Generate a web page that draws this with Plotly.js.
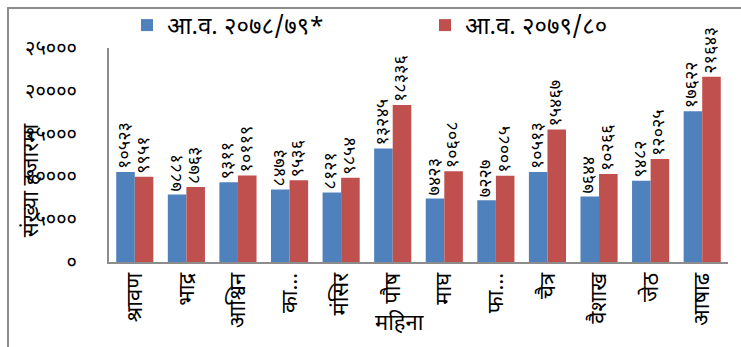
<!DOCTYPE html>
<html><head><meta charset="utf-8">
<script src="https://cdn.plot.ly/plotly-3.0.1.min.js"></script>
<style>
html,body{margin:0;padding:0;background:#fff;}
#frame{position:absolute;left:7px;top:7px;width:745px;height:350px;border:2px solid #8c8c8c;box-sizing:border-box;}
#chart{position:absolute;left:0;top:0;width:741px;height:347px;}
</style></head>
<body><div id="frame"></div><div id="chart"></div>
<script>
const months = ['श्रावण','भाद्र','आश्विन','का…','मंसिर','पौष','माघ','फा…','चैत्र','वैशाख','जेठ','आषाढ'];
const fy7879 = [10523, 7881, 9311, 8473, 8121, 13245, 7423, 7227, 10513, 7644, 9482, 17622];
const fy7980 = [9951, 8763, 10119, 9536, 9854, 18336, 10608, 10085, 15467, 10266, 12025, 21643];
const seriesNames = ['आ.व. २०७८/७९*', 'आ.व. २०७९/८०'];
const yTickVals = [0, 5000, 10000, 15000, 20000, 25000];
const yAxisTitle = 'संख्या हजारमा';
const xAxisTitle = 'महिना';

const dev = n => String(n).replace(/[0-9]/g, d => '०१२३४५६७८९'[+d]);
const font = 'Mangal, "Noto Sans Devanagari", "Lohit Devanagari", "Noto Sans", sans-serif';

const mk = (vals, name, color, leg) => ({
  type: 'bar', x: months, y: vals, name: name, legend: leg,
  marker: {color: color},
  text: vals.map(dev), textposition: 'outside', textangle: -90,
  constraintext: 'none',
  textfont: {family: font, size: 18, color: '#000'},
  cliponaxis: false
});

const data = [mk(fy7879, seriesNames[0], '#4F81BD', 'legend'),
              mk(fy7980, seriesNames[1], '#C0504D', 'legend2')];

const legBase = {orientation: 'h', xref: 'container', yref: 'container',
  y: 1 - 3/347, xanchor: 'left', yanchor: 'top',
  font: {family: font, size: 24}, itemwidth: 30, bgcolor: 'rgba(0,0,0,0)'};

const layout = {
  width: 741, height: 347,
  margin: {l: 109, r: 13, t: 44, b: 85},
  paper_bgcolor: 'rgba(0,0,0,0)', plot_bgcolor: 'rgba(0,0,0,0)',
  font: {family: font, color: '#000'},
  barmode: 'group', bargap: 0.28, bargroupgap: 0,
  showlegend: true,
  legend: Object.assign({}, legBase, {x: 127/741}),
  legend2: Object.assign({}, legBase, {x: 425/741}),
  xaxis: {showline: true, linecolor: '#8c8c8c', linewidth: 2, ticks: '',
          tickangle: -90, tickfont: {family: font, size: 22}, automargin: false},
  yaxis: {range: [0, 25000], tickvals: yTickVals, ticktext: yTickVals.map(dev),
          showline: true, linecolor: '#8c8c8c', linewidth: 2, showgrid: false,
          zeroline: false, ticks: '', ticklabelstandoff: 26,
          tickfont: {family: font, size: 20}, automargin: false},
  annotations: [
    {text: yAxisTitle, xref: 'paper', yref: 'paper', x: -0.15, y: 0.38, textangle: -90,
     showarrow: false, font: {family: font, size: 22}},
    {text: xAxisTitle, xref: 'paper', yref: 'paper', x: 0.47, y: -0.29, yanchor: 'middle',
     showarrow: false, font: {family: font, size: 22}}
  ]
};
Plotly.newPlot('chart', data, layout, {displayModeBar: false});
</script></body></html>
